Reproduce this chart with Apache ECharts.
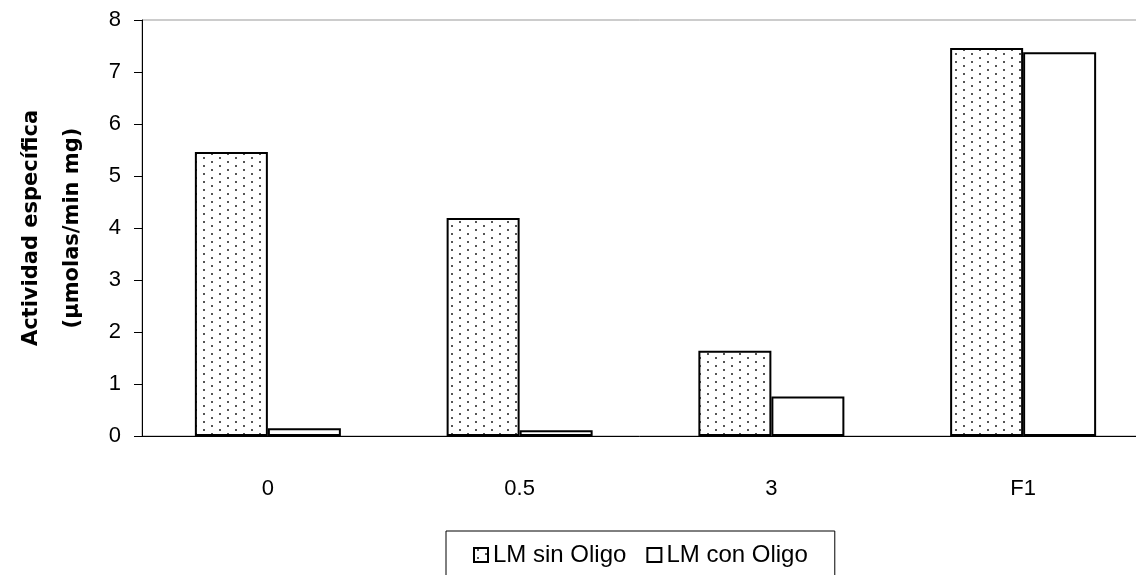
<!DOCTYPE html>
<html>
<head>
<meta charset="utf-8">
<script src="https://cdn.jsdelivr.net/npm/echarts@6/dist/echarts.min.js"></script>
<style>
html,body{margin:0;padding:0;background:#fff;}
#chart{width:1136px;height:575px;}
</style>
</head>
<body>
<div id="chart"></div>
<script>
const categories = ['0', '0.5', '3', 'F1'];
const sinOligo = [5.46, 4.19, 1.64, 7.46];
const conOligo = [0.15, 0.11, 0.76, 7.38];
const seriesNames = ['LM sin Oligo', 'LM con Oligo'];
const yTicks = [0, 8, 1];

// dotted fill pattern
const pat = document.createElement('canvas');
pat.width = 16; pat.height = 8;
const pc = pat.getContext('2d');
pc.fillStyle = '#fff';
pc.fillRect(0, 0, 16, 8);
pc.fillStyle = '#555';
pc.fillRect(3, 1, 2, 2);
pc.fillRect(11, 5, 2, 2);

const font = 'Liberation Sans';
const chart = echarts.init(document.getElementById('chart'), null, {renderer: 'canvas'});
chart.setOption({
  animation: false,
  backgroundColor: '#fff',
  grid: {left: 142, top: 20, width: 1007, height: 416, show: true, borderColor: '#999', borderWidth: 1,
         backgroundColor: 'transparent', containLabel: false, outerBoundsMode: 'none'},
  xAxis: {
    type: 'category', data: categories,
    axisLine: {lineStyle: {color: '#000', width: 1}},
    axisTick: {length: 8, lineStyle: {color: '#000'}},
    axisLabel: {margin: 42, fontSize: 22, color: '#000', fontFamily: font}
  },
  yAxis: {
    type: 'value', min: yTicks[0], max: yTicks[1], interval: yTicks[2],
    axisLine: {show: true, lineStyle: {color: '#000', width: 1}},
    axisTick: {show: true, length: 8, lineStyle: {color: '#000'}},
    splitLine: {show: false},
    axisLabel: {margin: 21, fontSize: 22, color: '#000', fontFamily: font},
    name: 'Actividad específica\n(µmolas/min mg)',
    nameLocation: 'middle', nameRotate: 90, nameGap: 49, nameMoveOverlap: false,
    nameTextStyle: {fontFamily: 'DejaVu Sans', fontWeight: 'bold', fontSize: 21, lineHeight: 41, color: '#000'}
  },
  legend: {
    left: 446, top: 531,
    padding: [12, 27, 12, 27],
    itemGap: 20, itemWidth: 14, itemHeight: 14, icon: 'rect',
    borderColor: '#000', borderWidth: 1,
    textStyle: {fontSize: 24, fontFamily: font, color: '#000'},
    data: seriesNames
  },
  series: [
    {name: seriesNames[0], type: 'bar', data: sinOligo, barWidth: 73, barGap: '0%',
     itemStyle: {color: {image: pat, repeat: 'repeat'}, borderColor: '#000', borderWidth: 2}},
    {name: seriesNames[1], type: 'bar', data: conOligo, barWidth: 73, barGap: '0%',
     itemStyle: {color: '#fff', borderColor: '#000', borderWidth: 2}}
  ]
});
</script>
</body>
</html>
